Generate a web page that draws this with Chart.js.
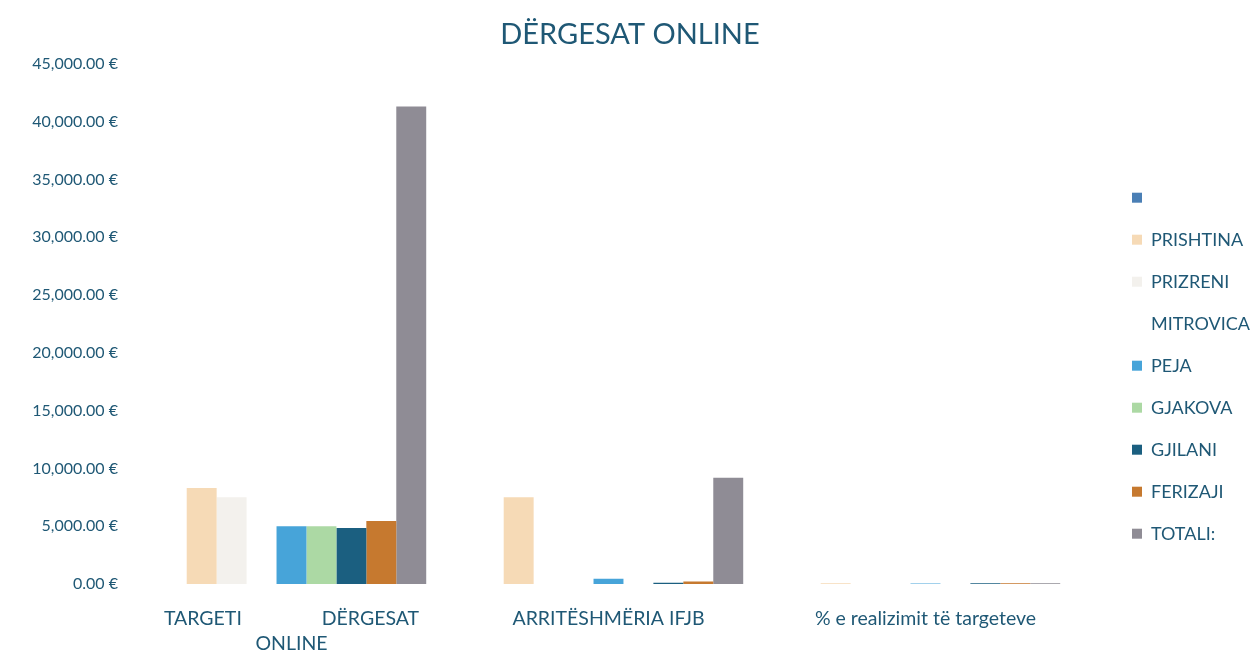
<!DOCTYPE html>
<html>
<head>
<meta charset="utf-8">
<script src="https://cdn.jsdelivr.net/npm/chart.js@4/dist/chart.umd.min.js"></script>
<style>
  html, body { margin: 0; padding: 0; background: #fff; }
  #wrap { width: 1260px; height: 650px; }
</style>
</head>
<body>
<div id="wrap"><canvas id="dergesatChart" width="1260" height="650"></canvas></div>
<script>
const categories = [
    ['TARGETI                DËRGESAT', 'ONLINE'],
    'ARRITËSHMËRIA IFJB',
    '% e realizimit të targeteve'
];
const seriesNames = ['', 'PRISHTINA', 'PRIZRENI', 'MITROVICA', 'PEJA', 'GJAKOVA', 'GJILANI', 'FERIZAJI', 'TOTALI:'];
const blankValues     = [0, 0, 0];
const prishtinaValues = [8300, 7500, 60];
const prizreniValues  = [7500, 0, 0];
const mitrovicaValues = [0, 0, 0];
const pejaValues      = [5000, 450, 50];
const gjakovaValues   = [5000, 0, 0];
const gjilaniValues   = [4850, 100, 60];
const ferizajiValues  = [5450, 220, 60];
const totaliValues    = [41300, 9200, 60];
const yTicks = [0, 5000, 10000, 15000, 20000, 25000, 30000, 35000, 40000, 45000];

const seriesValues = [blankValues, prishtinaValues, prizreniValues, mitrovicaValues, pejaValues,
    gjakovaValues, gjilaniValues, ferizajiValues, totaliValues];
const seriesColors = ['#4a7fb5', '#f6dab6', '#f3f1ed', '#ffffff', '#47a4d9', '#acd9a4', '#1b5f80', '#c6792f', '#8f8c95'];
const textColor = '#1f5875';

function formatEuro(v) {
    return v.toLocaleString('en-US', { minimumFractionDigits: 2, maximumFractionDigits: 2 }) + ' €';
}

const ctx = document.getElementById('dergesatChart').getContext('2d');
new Chart(ctx, {
    type: 'bar',
    data: {
        labels: categories,
        datasets: seriesNames.map((name, i) => ({
            label: name,
            data: seriesValues[i],
            backgroundColor: seriesColors[i],
            borderWidth: 0,
            categoryPercentage: 0.85,
            barPercentage: 1.0
        }))
    },
    options: {
        responsive: false,
        animation: false,
        layout: { padding: { left: 0, right: 0, top: 0, bottom: 0 } },
        plugins: {
            title: {
                display: true,
                text: 'DËRGESAT ONLINE',
                color: textColor,
                font: { family: 'Lato', size: 29, weight: 'normal' },
                padding: { top: 17, bottom: 12 }
            },
            legend: {
                position: 'right',
                title: {
                    display: true,
                    text: '',
                    padding: { top: 0, bottom: 67 }
                },
                labels: {
                    color: textColor,
                    font: { family: 'Lato', size: 18 },
                    boxWidth: 10,
                    boxHeight: 10,
                    padding: 24
                }
            },
            tooltip: { enabled: false }
        },
        scales: {
            x: {
                grid: { display: false, drawTicks: false },
                border: { display: false },
                afterFit: axis => { axis.height = 66; },
                ticks: {
                    color: textColor,
                    font: { family: 'Lato', size: 19.5, lineHeight: 1.3 },
                    padding: 22,
                    maxRotation: 0,
                    autoSkip: false
                }
            },
            y: {
                min: 0,
                max: 45000,
                afterBuildTicks: axis => { axis.ticks = yTicks.map(v => ({ value: v })); },
                afterFit: axis => { axis.width = 133; },
                grid: { display: false, drawTicks: false },
                border: { display: false },
                ticks: {
                    color: textColor,
                    font: { family: 'Lato', size: 16 },
                    padding: 15,
                    callback: v => formatEuro(v)
                }
            },
            gap: {
                position: 'right',
                display: true,
                min: 0,
                max: 1,
                afterFit: axis => { axis.width = 24; },
                grid: { display: false, drawTicks: false },
                border: { display: false },
                ticks: { display: false }
            }
        }
    }
});
</script>
</body>
</html>
